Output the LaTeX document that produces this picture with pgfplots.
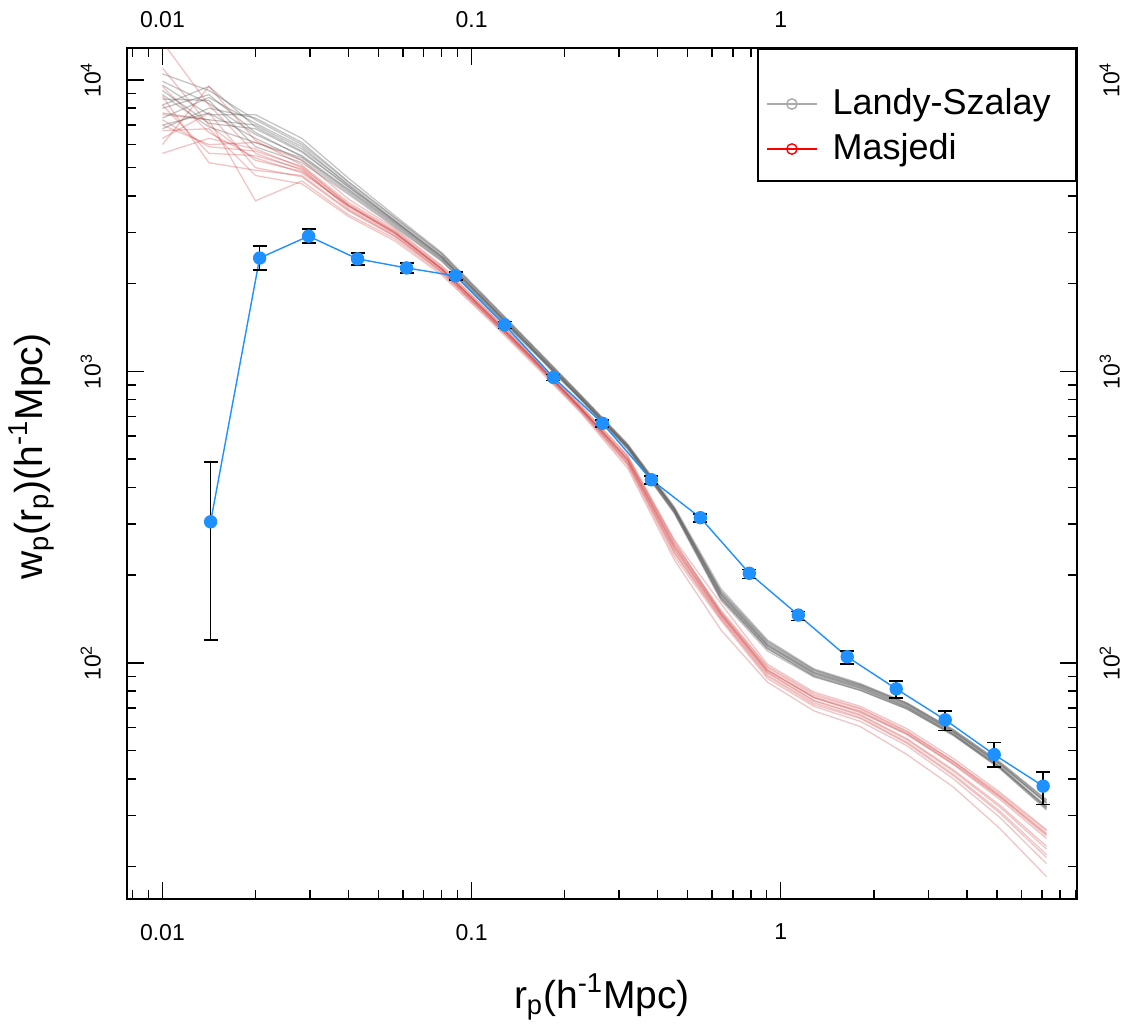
\documentclass[border=0pt]{standalone}
\usepackage{fontspec}
\setmainfont{Liberation Sans}
\usepackage{pgfplots}
\pgfplotsset{compat=1.18}
\usepackage{pgfplotstable}

\definecolor{curvegray}{RGB}{90,90,90}
\definecolor{curvered}{RGB}{205,45,45}
\definecolor{ptblue}{RGB}{30,144,255}
\definecolor{leggray}{RGB}{170,170,170}

\pgfplotstableread{
x y ep em
0.01432 305 184 185
0.02063 2449 241 221
0.02971 2912 164 158
0.04278 2433 114 116
0.06161 2265 90 87
0.08872 2127 66 67
0.1278 1445 37 42
0.1840 954 23 22
0.2650 664 16 20
0.3816 425 13 13
0.5495 315 10 10
0.7914 203 6 8
1.140 146 4 6
1.641 105 5 6
2.363 81.5 5.4 5.5
3.404 63.8 4.7 5.2
4.902 48.5 4.8 4.6
7.060 37.8 4.4 5.1
}\bluedata

\pgfplotstableread{
x g1 g2 g3 g4 g5 g6 g7 g8 g9 g10 g11 g12
0.01 10500 7400 8900 9600 7000 8200 9900 7700 8600 9200 6800 8000
0.01414 9200 8700 6900 7600 7700 9500 8300 7300 8500 7100 8000 8900
0.02 7300 7100 6100 7600 6300 6900 6500 7000 5900 6800 7400 6600
0.02828 6000 5900 5400 6300 5300 5700 5500 5800 5200 5650 6100 5450
0.04 4450 4350 4150 4600 4100 4300 4220 4380 4050 4290 4480 4190
0.05657 3350 3280 3180 3420 3150 3270 3230 3300 3120 3260 3370 3210
0.08 2530 2480 2420 2560 2400 2470 2450 2500 2390 2475 2540 2440
0.1131 1746 1717 1688 1765 1668 1707 1702 1731 1673 1712 1751 1696
0.16 1200 1181 1163 1209 1153 1174 1170 1190 1158 1179 1202 1167
0.2263 824 813 801 828 796 807 805 817 799 811 822 804
0.32 560 555 545 564 541 549 553 556 543 552 558 548
0.4525 340 337 330 344 326 332 336 338 328 335 339 331
0.64 176 173 168 180 164 169 174 172 166 171 177 167
0.9051 118 116 113 120 110 114 117 115 112 115 119 112
1.28 94.5 93.0 91.0 95.5 89.5 92.0 93.8 92.0 90.5 92.8 94.8 90.0
1.810 84.0 83.3 81.8 85.0 80.5 82.5 84.0 82.0 81.0 83.0 84.5 80.5
2.56 72.5 71.8 70.5 73.0 69.5 71.0 72.3 70.5 70.0 71.5 72.8 69.5
3.620 58.5 58.0 57.0 59.0 56.5 57.5 58.2 57.0 56.8 58.0 59.0 56.3
5.12 45.3 44.8 43.8 45.5 43.5 44.2 45.0 44.0 43.8 44.8 45.8 43.3
7.241 33.5 33.0 32.0 33.8 31.5 32.3 33.2 32.0 31.8 33.1 34.0 31.3
}\graydata

\pgfplotstableread{
x r1 r2 r3 r4 r5 r6 r7 r8 r9 r10 r11 r12
0.01 13500 6000 8800 7600 5600 11000 7000 6700 8200 6300 9500 7300
0.01414 8200 9500 5200 7300 6300 7000 6000 6800 5600 7700 6600 5900
0.02 5600 6200 4900 3850 5800 5300 6100 4700 5500 5000 5400 5700
0.02828 4900 5100 4700 4500 5000 4850 5300 4400 4950 4650 4800 5050
0.04 3700 3800 3580 3450 3750 3680 3900 3400 3620 3550 3700 3720
0.05657 2990 3050 2910 2850 3020 2970 3090 2800 2940 2900 2980 3000
0.08 2249 2289 2200 2171 2259 2240 2308 2142 2220 2196 2245 2254
0.1131 1574 1603 1546 1531 1584 1570 1613 1512 1555 1541 1572 1579
0.16 1090 1109 1072 1062 1095 1086 1114 1048 1079 1070 1089 1092
0.2263 745 757 734 726 748 742 762 718 739 731 744 746
0.32 505 510 485 475 500 493 515 465 488 480 496 498
0.4525 262 258 240 232 255 247 265 226 244 238 250 252
0.64 149 152 143 140 150 146 160 130 145 142 148 147
0.9051 95.0 97.5 91.0 88.5 96.5 93.0 99.0 86.0 92.5 90.0 94.5 94.0
1.28 76.5 78.5 73.0 71.0 77.5 74.5 79.5 68.5 74.0 72.0 76.0 76.0
1.810 68.5 70.0 65.0 63.0 69.5 66.5 71.0 60.5 66.0 64.5 68.0 67.5
2.56 57.5 58.5 53.5 52.0 58.0 55.0 59.5 48.5 54.5 53.0 56.8 57.0
3.620 45.5 46.0 41.5 40.0 46.0 43.0 47.0 37.5 42.5 41.0 44.8 45.0
5.12 34.8 35.0 31.0 29.5 35.5 32.5 36.0 27.0 32.0 30.5 34.0 34.5
7.241 25.8 26.0 22.0 20.5 26.5 23.5 26.8 18.5 23.0 21.5 25.0 25.5
}\reddata

\begin{document}
\begin{tikzpicture}
\begin{axis}[
  name=ax,
  xmode=log, ymode=log,
  scale only axis, width=474.6pt, height=425.35pt,
  xmin=0.0077, xmax=9.05, ymin=15.5, ymax=12840,
  xtick={0.01,0.1,1}, xticklabels={0.01,0.1,1},
  ytick={100,1000,10000},
  yticklabels={10\textsuperscript{2},10\textsuperscript{3},10\textsuperscript{4}},
  tick label style={font=\fontsize{11.5}{13}\selectfont},
  axis line style={line width=1pt},
  every tick/.style={black, line width=0.75pt},
  major tick length=8.5pt, minor tick length=4.5pt,
  tick align=inside,
  minor xtick={0.008,0.009,0.02,0.03,0.04,0.05,0.06,0.07,0.08,0.09,0.2,0.3,0.4,0.5,0.6,0.7,0.8,0.9,2,3,4,5,6,7,8,9},
  minor ytick={20,30,40,50,60,70,80,90,200,300,400,500,600,700,800,900,2000,3000,4000,5000,6000,7000,8000,9000},
  xtick pos=both, ytick pos=both,
  xticklabel pos=bottom, yticklabel pos=left,
  xticklabel style={yshift=-9pt},
  yticklabel style={xshift=-9.7pt, rotate=90, anchor=south},
  xlabel={r\textsubscript{p}(h\textsuperscript{-1}Mpc)},
  ylabel={w\textsubscript{p}(r\textsubscript{p})(h\textsuperscript{-1}Mpc)},
  label style={font=\fontsize{19.5}{22}\selectfont},
  xlabel style={at={(axis description cs:0.5,0)}, anchor=base, yshift=-54.5pt},
  ylabel style={at={(axis description cs:-0.0896,0.52)}, anchor=base},
  legend style={at={(1,1)}, anchor=north east, draw=black, line width=0.75pt,
    font=\fontsize{18}{20}\selectfont, inner xsep=4pt, inner ysep=6pt,
    nodes={inner ysep=0pt, text height=26.5pt, text depth=5pt},
    cells={anchor=base west}, row sep=-9pt, column sep=5.5pt},
  legend image code/.code={\draw[mark repeat=2,mark phase=2] plot coordinates {(0pt,5pt) (12.5pt,5pt) (25pt,5pt)};},
]
\pgfplotsinvokeforeach{1,...,12}{
  \addplot[no marks, curvegray, opacity=0.35, line width=0.65pt, forget plot] table[x=x, y=g#1]{\graydata};
}
\pgfplotsinvokeforeach{1,...,12}{
  \addplot[no marks, curvered, opacity=0.28, line width=0.65pt, forget plot] table[x=x, y=r#1]{\reddata};
}
\addplot[ptblue, line width=0.7pt, mark=*, mark size=3pt, mark options={ptblue}, forget plot]
  table[x=x, y=y]{\bluedata};
\addplot[draw=none, mark=none, forget plot,
  error bars/.cd, y dir=both, y explicit,
  error bar style={draw=black, line width=0.8pt},
  error mark options={draw=black, line width=0.8pt, mark size=3.5pt, rotate=90}]
  table[x=x, y=y, y error plus=ep, y error minus=em]{\bluedata};

\addlegendimage{leggray, line width=0.7pt, mark=o, mark size=2.6pt}
\addlegendentry{Landy-Szalay\kern6.5pt}
\addlegendimage{red, line width=0.7pt, mark=o, mark size=2.6pt}
\addlegendentry{Masjedi}
\end{axis}
\begin{axis}[
  xmode=log, ymode=log,
  scale only axis, width=474.6pt, height=425.35pt,
  xmin=0.0077, xmax=9.05, ymin=15.5, ymax=12840,
  at={(ax.south west)}, anchor=south west,
  xtick={0.01,0.1,1}, xticklabels={0.01,0.1,1},
  ytick={100,1000,10000},
  yticklabels={10\textsuperscript{2},10\textsuperscript{3},10\textsuperscript{4}},
  tick label style={font=\fontsize{11.5}{13}\selectfont},
  axis line style={draw=none},
  major tick length=0pt, minor tick length=0pt,
  xticklabel pos=top, yticklabel pos=right,
  xticklabel style={yshift=6.7pt},
  yticklabel style={xshift=8pt, rotate=90, anchor=north},
]
\addplot[draw=none, forget plot] coordinates {(0.1,1000)};
\end{axis}
\path ([shift={(-63.65pt,-61pt)}]ax.south west) rectangle ([shift={(26.25pt,24.15pt)}]ax.north east);
\end{tikzpicture}
\end{document}
